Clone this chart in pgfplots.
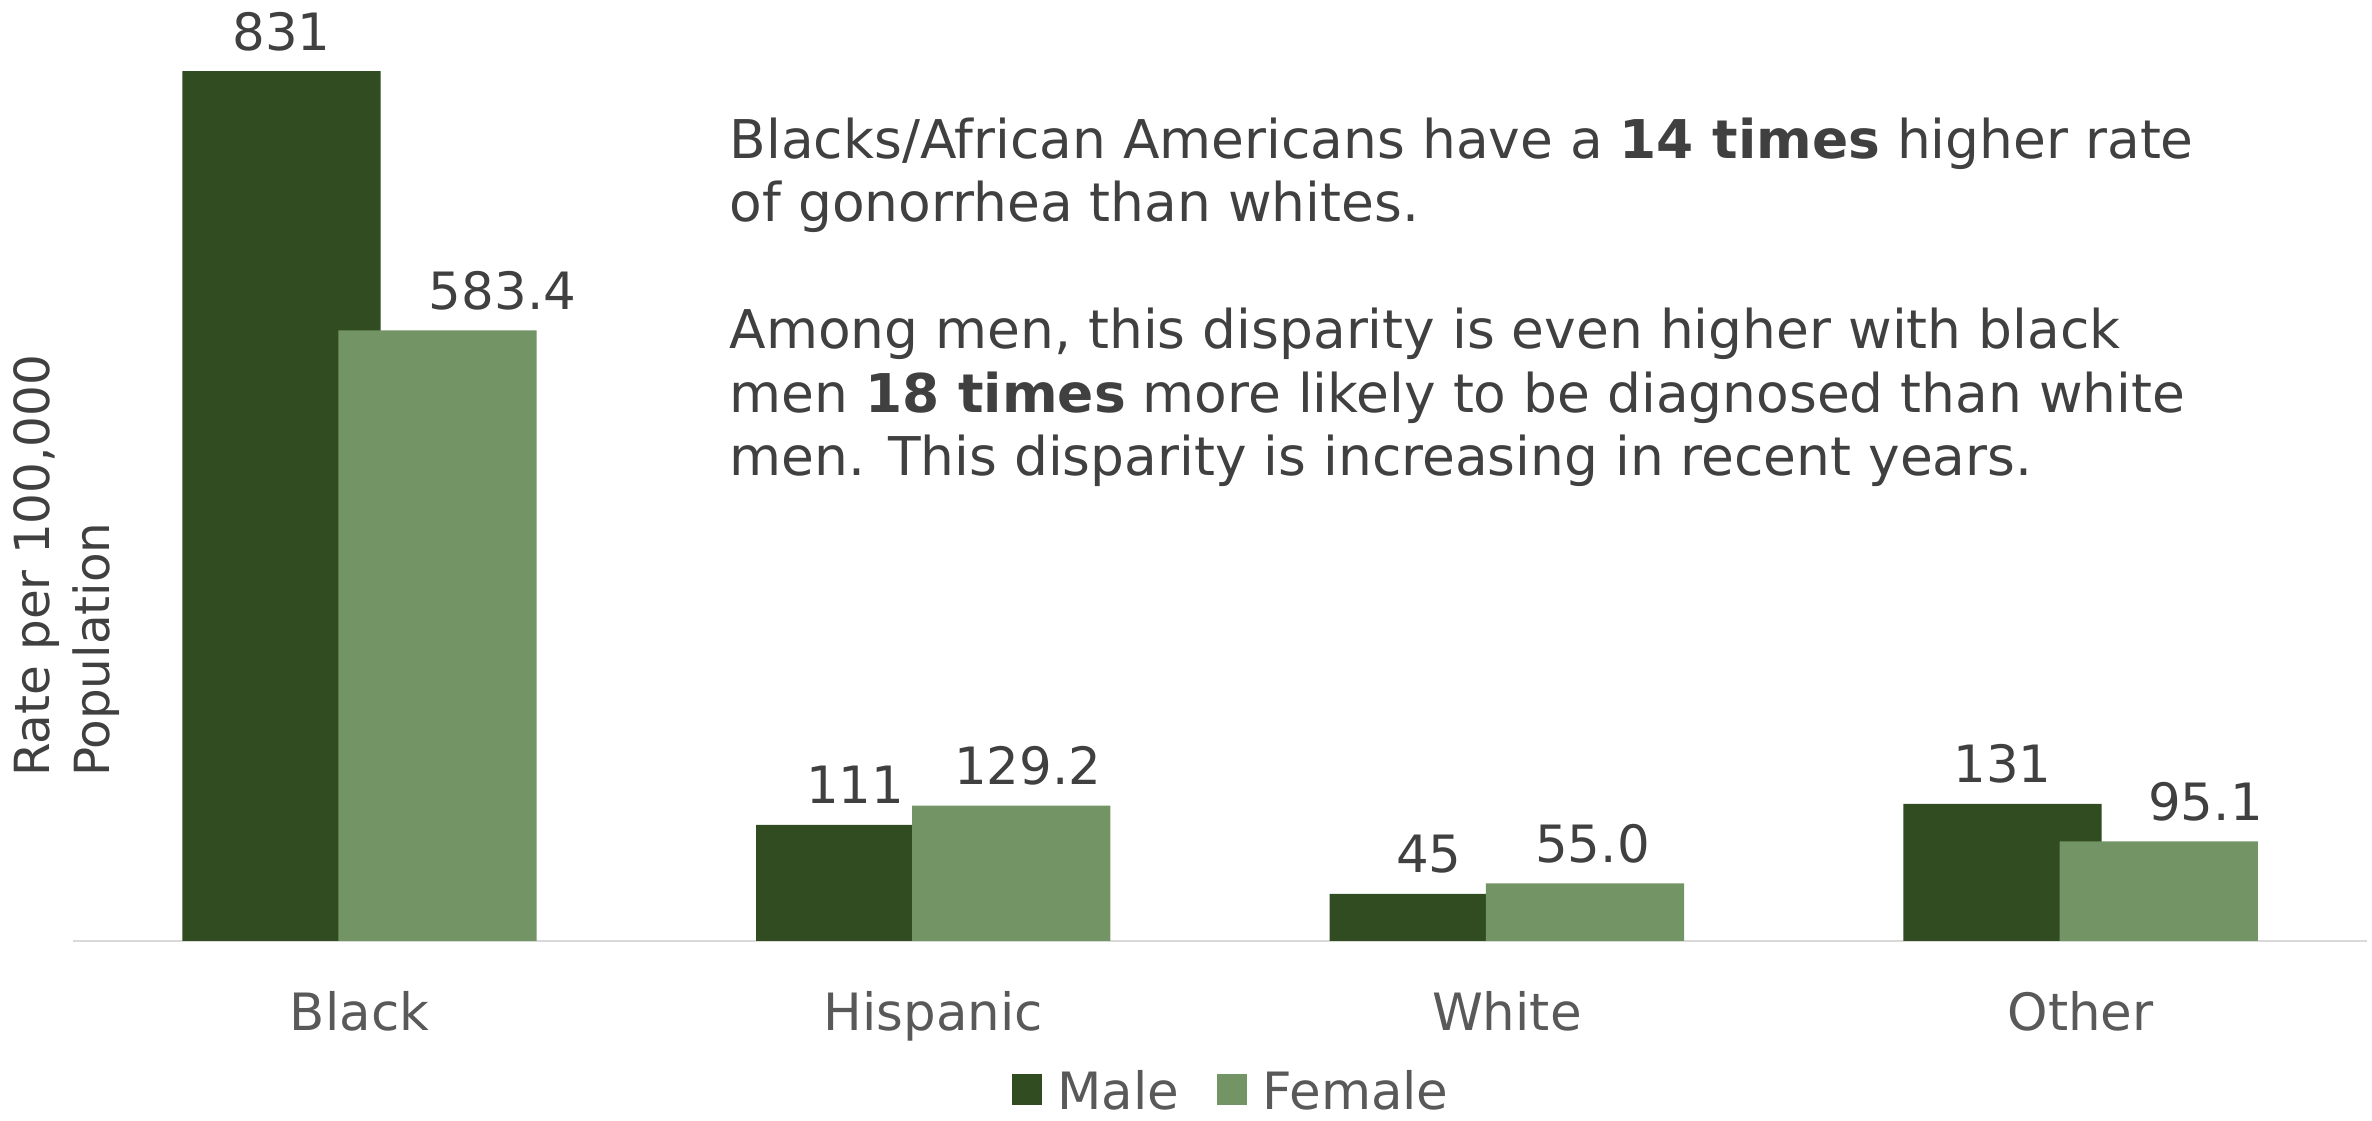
\documentclass[border=0pt]{standalone}
\usepackage{fontspec}
\setmainfont{DejaVu Sans}
\usepackage{pgfplots}
\pgfplotsset{compat=1.18}
\usepackage{pgfplotstable}
\definecolor{male}{HTML}{314C20}
\definecolor{female}{HTML}{739464}
\definecolor{txt}{HTML}{404040}
\definecolor{lbl}{HTML}{595959}
\definecolor{axisgray}{HTML}{D9D9D9}

\pgfplotstableread{
x y label dx
0 831 831 0
1 111 111 0
2 45 45 0
3 131 131 0
}\maletab

\pgfplotstableread{
x y label dx
0 583.4 583.4 21.5
1 129.2 129.2 5.5
2 55.0 55.0 2.5
3 95.1 95.1 15.5
}\femaletab

\newcommand{\fs}{\fontsize{17}{20}\selectfont}
\newcommand{\fa}{\fontsize{17.65}{21}\selectfont}

\begin{document}
\begin{tikzpicture}
\path[use as bounding box] (-24pt,-59.5pt) rectangle (760pt,311pt);
\begin{axis}[
  at={(0,0)}, anchor=south west,
  scale only axis, width=758.5pt, height=311pt,
  xmin=-0.5, xmax=3.5, ymin=0, ymax=899,
  axis y line=none,
  axis x line*=bottom,
  x axis line style={axisgray, line width=0.8pt},
  xtick={0,1,2,3},
  xticklabels={Black,Hispanic,White,Other},
  major tick length=0pt,
  ytick=\empty,
  xticklabel style={font=\fs, text=lbl, anchor=base, yshift=-29.5pt},
  ybar,
  bar width=0.3456,
  clip=false,
  point meta=explicit symbolic,
  visualization depends on={\thisrow{dx} \as \dx},
  nodes near coords={\pgfplotspointmeta},
  nodes near coords style={font=\fs, text=txt, anchor=base, yshift=7pt, xshift=\dx pt, inner sep=0pt},
  legend columns=2,
  legend image code/.code={\fill[#1] (0pt,-5pt) rectangle (10pt,5pt);},
  legend style={at={(0.5045,-0.158)}, anchor=center, draw=none, fill=none,
    font=\fs, text=lbl, nodes={inner sep=0pt, text depth=0pt},
    /tikz/every odd column/.style={column sep=5pt},
    /tikz/every even column/.style={column sep=12.5pt}},
]
\addplot[fill=male, draw=none, bar shift=-0.136] table[x=x, y=y, meta=label] {\maletab};
\addlegendentry{Male}
\addplot[fill=female, draw=none, bar shift=0.136] table[x=x, y=y, meta=label] {\femaletab};
\addlegendentry{Female}
\end{axis}
\node[rotate=90, anchor=west, align=left, font=\fontsize{16}{20}\selectfont, text=txt, inner sep=0pt] at (-2pt,54pt) {Rate per 100,000\\Population};
\begin{scope}[every node/.style={anchor=base west, inner sep=0pt, font=\fa, text=txt}]
\node at (217pt,258.75pt) {Blacks/African Americans have a \textbf{14 times} higher rate};
\node at (217pt,237.75pt) {of gonorrhea than whites.};
\node at (217pt,195.75pt) {Among men, this disparity is even higher with black};
\node at (217pt,174.75pt) {men \textbf{18 times} more likely to be diagnosed than white};
\node at (217pt,153.75pt) {men. This disparity is increasing in recent years.};
\end{scope}
\end{tikzpicture}
\end{document}
